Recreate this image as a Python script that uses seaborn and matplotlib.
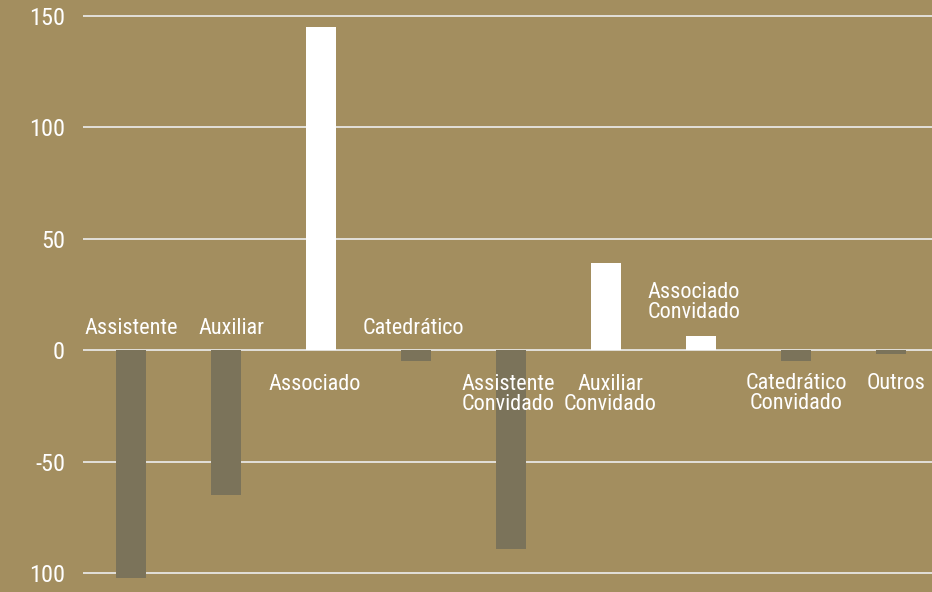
import matplotlib
matplotlib.use("Agg")
import matplotlib.pyplot as plt
import seaborn as sns
import pandas as pd

categories = ["Assistente", "Auxiliar", "Associado", "Catedrático",
              "Assistente\nConvidado", "Auxiliar\nConvidado", "Associado\nConvidado",
              "Catedrático\nConvidado", "Outros"]
values = [-102, -65, 145, -5, -89, 39, 6.3, -4.8, -1.7]
label_y = [9.9, 9.9, -15.3, 9.9, -20, -20, 21.5, -19.5, -15]
label_dx = [0, 0.05, -0.07, -0.03, -0.03, 0.04, -0.08, 0, 0.05]
yticks = [-100, -50, 0, 50, 100, 150]
ytick_labels = ["100", "-50", "0", "50", "100", "150"]

BG = "#A38E5F"
NEG = "#7B735A"
POS = "#FFFFFF"

sns.set_theme(style="white")
plt.rcParams["font.family"] = ["Roboto Condensed", "Archivo Narrow", "DejaVu Sans"]

df = pd.DataFrame({"cat": categories, "val": values})
df["sign"] = ["pos" if v > 0 else "neg" for v in values]

fig = plt.figure(figsize=(9.32, 5.92), dpi=100)
fig.patch.set_facecolor(BG)
ax = fig.add_axes([83 / 932, 0, 1 - 83 / 932, 1])
ax.set_facecolor(BG)

sns.barplot(data=df, x="cat", y="val", hue="sign", palette={"pos": POS, "neg": NEG},
            width=0.316, dodge=False, legend=False, ax=ax, saturation=1,
            linewidth=0, edgecolor="none")

ax.set_xlim(-0.51, 8.43)
ax.set_ylim(-108.5, 157.2)
ax.set_yticks(yticks)
ax.set_yticklabels(ytick_labels, color="white", fontsize=17.5)
ax.tick_params(axis="y", length=0, pad=13)
ax.set_xticks([])
ax.set_xlabel("")
ax.set_ylabel("")
ax.set_axisbelow(True)
ax.yaxis.grid(True, color="#E2E0DA", linewidth=1.4)
ax.xaxis.grid(False)
for s in ax.spines.values():
    s.set_visible(False)

for i, (lab, ly) in enumerate(zip(categories, label_y)):
    ax.text(i + label_dx[i], ly, lab, ha="center", va="center", color="white",
            fontsize=16, linespacing=0.92)

fig.savefig("out.png", dpi=100, facecolor=BG)
